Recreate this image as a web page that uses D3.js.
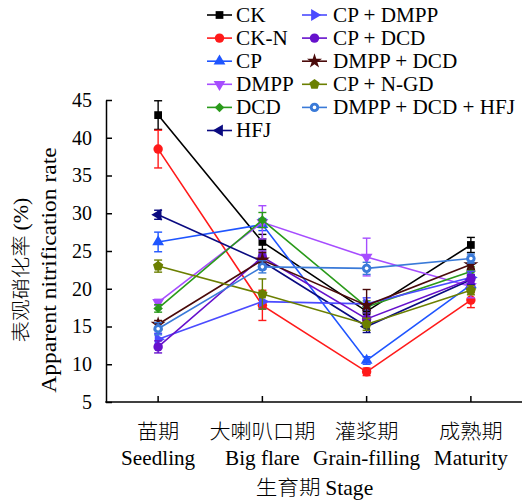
<!DOCTYPE html>
<html><head><meta charset="utf-8">
<script src="https://cdn.jsdelivr.net/npm/d3@7"></script>
<style>body{margin:0;background:#fff}svg{display:block}</style>
</head><body><svg id="c" width="524" height="500" font-family="Liberation Serif"></svg>
<script>
// ---- data ----
const stages = ["Seedling","Big flare","Grain-filling","Maturity"];
const stagesCN = ["苗期","大喇叭口期","灌浆期","成熟期"];
const yTicks = [5,10,15,20,25,30,35,40,45];
const seriesNames = ["CK","CK-N","CP","DMPP","DCD","HFJ","CP + DMPP","CP + DCD","DMPP + DCD","CP + N-GD","DMPP + DCD + HFJ"];
const ck        = [43.0, 26.2, 17.0, 25.8];
const ckErr     = [1.9, 1.0, 1.0, 1.0];
const ckN       = [38.5, 17.8, 9.0, 18.5];
const ckNErr    = [2.5, 2.0, 0.5, 1.0];
const cp        = [26.2, 28.5, 10.5, 20.5];
const cpErr     = [1.3, 0.8, 0.5, 0.8];
const dmpp      = [18.2, 28.8, 24.2, 20.3];
const dmppErr   = [0.4, 2.2, 2.5, 1.5];
const dcd       = [17.4, 29.1, 17.6, 22.3];
const dcdErr    = [0.5, 1.0, 0.8, 0.6];
const hfj       = [29.8, 23.6, 15.0, 21.2];
const hfjErr    = [0.6, 1.0, 0.8, 0.6];
const cpDmpp    = [13.3, 18.3, 18.0, 21.5];
const cpDmppErr = [0.8, 1.0, 0.8, 0.8];
const cpDcd     = [12.3, 24.2, 16.0, 21.3];
const cpDcdErr  = [0.8, 0.8, 0.8, 0.6];
const dmppDcd   = [15.3, 23.8, 17.8, 23.2];
const dmppDcdErr= [0.5, 1.0, 2.1, 0.6];
const cpNgd     = [23.0, 19.3, 15.3, 19.8];
const cpNgdErr  = [0.8, 2.0, 0.8, 0.6];
const tri       = [14.7, 22.9, 22.7, 24.0];
const triErr    = [0.8, 0.8, 0.8, 0.6];

const values = [ck, ckN, cp, dmpp, dcd, hfj, cpDmpp, cpDcd, dmppDcd, cpNgd, tri];
const errors = [ckErr, ckNErr, cpErr, dmppErr, dcdErr, hfjErr, cpDmppErr, cpDcdErr, dmppDcdErr, cpNgdErr, triErr];
const colors = ["#000000","#ff1a1a","#1f55ff","#a64dff","#2a9a1a","#0a0a80","#4b4bff","#6611cc","#4a0a0a","#6b7f00","#3a7ad8"];

const SERIF = "'Liberation Serif','Times New Roman',serif";
const CJK = "'Noto Sans CJK SC','Noto Sans CJK JP',sans-serif";

// ---- symbols ----
const pentagon = {draw(ctx, size){const r=Math.sqrt(size/2.4);for(let i=0;i<5;i++){const a=-Math.PI/2+i*2*Math.PI/5;const x=r*Math.cos(a),y=r*Math.sin(a);i?ctx.lineTo(x,y):ctx.moveTo(x,y);}ctx.closePath();}};
const shapes = [
  {t:d3.symbolSquare,s:60,r:0},
  {t:d3.symbolCircle,s:70,r:0},
  {t:d3.symbolTriangle,s:60,r:0},
  {t:d3.symbolTriangle,s:60,r:180},
  {t:d3.symbolSquare,s:45,r:45},
  {t:d3.symbolTriangle,s:60,r:-90},
  {t:d3.symbolTriangle,s:60,r:90},
  {t:d3.symbolCircle,s:70,r:0},
  {t:d3.symbolStar,s:70,r:0},
  {t:pentagon,s:70,r:0},
  {t:d3.symbolCircle,s:70,r:0,hollow:true}
];

const svg = d3.select("#c");
const x = d3.scaleBand().domain(stages).range([106,523]).padding(0);
const y = d3.scaleLinear().domain([5,45]).range([402,100]);
const cx = s => x(s) + x.bandwidth()/2;

// axes
const yAxis = d3.axisLeft(y).tickValues(yTicks).tickSizeInner(-6).tickSizeOuter(0).tickPadding(14);
const gy = svg.append("g").attr("transform","translate(106,0)").call(yAxis);
gy.attr("font-family",null).attr("font-size",null);
gy.select(".domain").attr("stroke","#000").attr("stroke-width",1.5);
gy.selectAll(".tick line").attr("stroke","#000").attr("stroke-width",1.5);
gy.selectAll(".tick text").attr("font-size",20).attr("fill","#000");

const gx = svg.append("g").attr("transform","translate(0,402)");
gx.append("line").attr("x1",105.25).attr("x2",522).attr("y1",0).attr("y2",0).attr("stroke","#000").attr("stroke-width",1.5);
gx.selectAll("line.tk").data(stages).join("line").attr("class","tk")
  .attr("x1",d=>cx(d)).attr("x2",d=>cx(d)).attr("y1",0).attr("y2",-6).attr("stroke","#000").attr("stroke-width",1.5);
gx.selectAll("text.cn").data(stagesCN).join("text").attr("class","cn")
  .attr("transform",(d,i)=>`translate(${cx(stages[i])},37) scale(1.06,1)`).attr("text-anchor","middle").attr("font-size",20)
  .style("font-family",CJK).attr("font-weight",300).text(d=>d);
gx.selectAll("text.en").data(stages).join("text").attr("class","en")
  .attr("transform",d=>`translate(${cx(d)},63) scale(1.06,1)`).attr("text-anchor","middle").attr("font-size",20).text(d=>d);

// axis titles
const xt = svg.append("text").attr("transform","translate(314.5,495) scale(1.08,1)").attr("text-anchor","middle").attr("font-size",20);
xt.append("tspan").style("font-family",CJK).attr("font-weight",300).attr("font-size",20).text("生育期 ");
xt.append("tspan").text("Stage");

const yt = svg.append("g").attr("transform","translate(0,270) rotate(-90)");
const yt1 = yt.append("text").attr("transform","translate(0,28) scale(1.1,1)").attr("text-anchor","middle").attr("font-size",20);
yt1.append("tspan").style("font-family",CJK).attr("font-weight",300).attr("font-size",19.5).text("表观硝化率 ");
yt1.append("tspan").text("(%)");
yt.append("text").attr("transform","translate(0,56) scale(1.12,1)").attr("text-anchor","middle").attr("font-size",21).text("Apparent nitrification rate");

// series
const line = d3.line().x((d,i)=>cx(stages[i])).y(d=>y(d));
values.forEach((vals,k)=>{
  const g = svg.append("g");
  const col = colors[k];
  g.append("path").attr("d",line(vals)).attr("fill","none").attr("stroke",col).attr("stroke-width",1.6);
  vals.forEach((v,i)=>{
    const e = errors[k][i], px = cx(stages[i]);
    g.append("line").attr("x1",px).attr("x2",px).attr("y1",y(v-e)).attr("y2",y(v+e)).attr("stroke",col).attr("stroke-width",1.4);
    [v-e,v+e].forEach(w=>g.append("line").attr("x1",px-4).attr("x2",px+4).attr("y1",y(w)).attr("y2",y(w)).attr("stroke",col).attr("stroke-width",1.4));
    const sh = shapes[k];
    g.append("path").attr("d",d3.symbol(sh.t,sh.s)()).attr("fill",col)
      .attr("transform",`translate(${px},${y(v)}) rotate(${sh.r})`);
    if (sh.hollow) g.append("circle").attr("cx",px).attr("cy",y(v)).attr("r",1.8).attr("fill","#fff");
  });
});

// legend
const legCols = [{lx:207,tx:236},{lx:302,tx:333}];
seriesNames.forEach((name,k)=>{
  const col = k<6?0:1, row = k<6?k:k-6;
  const ly = 15 + row*23.1;
  const c = legCols[col];
  const g = svg.append("g");
  g.append("line").attr("x1",c.lx).attr("x2",c.lx+25).attr("y1",ly).attr("y2",ly).attr("stroke",colors[k]).attr("stroke-width",1.6);
  const sh = shapes[k];
  g.append("path").attr("d",d3.symbol(sh.t,sh.s)()).attr("fill",colors[k])
    .attr("transform",`translate(${c.lx+12.5},${ly}) rotate(${sh.r})`);
  if (sh.hollow) g.append("circle").attr("cx",c.lx+12.5).attr("cy",ly).attr("r",1.8).attr("fill","#fff");
  g.append("text").attr("transform",`translate(${c.tx},${ly+6.5}) scale(1.06,1)`).attr("font-size",20).text(name);
});

// serif for all Latin text
svg.selectAll("text").attr("font-family",SERIF).attr("fill","#000");
</script></body></html>
